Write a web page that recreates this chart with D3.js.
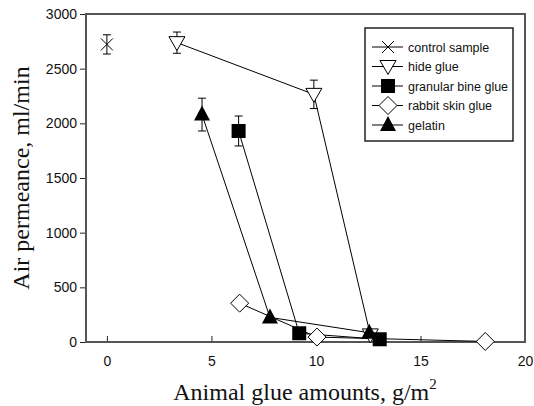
<!DOCTYPE html>
<html lang="en">
<head>
<meta charset="UTF-8">
<script src="https://d3js.org/d3.v7.min.js"></script>
<title>Air permeance</title>
<style>
  body { margin: 0; background: #fff; }
</style>
</head>
<body>
<svg width="534" height="406" id="mainsvg"></svg>
<script>
// data
const seriesNames = ['control sample', 'hide glue', 'granular bine glue', 'rabbit skin glue', 'gelatin'];
const seriesKeys = ['x', 'tri', 'sq', 'dia', 'up'];

const controlX = [0];
const controlY = [2722];
const controlErr = [88];

const hideX = [3.35, 9.9, 12.6];
const hideY = [2738, 2265, 65];
const hideErr = [97, 130, 0];

const granularX = [6.3, 9.2, 13.05];
const granularY = [1930, 80, 25];
const granularErr = [137, 0, 0];

const rabbitX = [6.35, 10.05, 18.1];
const rabbitY = [355, 45, 5];
const rabbitErr = [0, 0, 0];

const gelatinX = [4.55, 7.8, 12.55];
const gelatinY = [2080, 225, 85];
const gelatinErr = [150, 0, 0];

const xTicks = [0, 5, 10, 15, 20];
const yTicks = [0, 500, 1000, 1500, 2000, 2500, 3000];

const series = [
  { xs: controlX, ys: controlY, err: controlErr },
  { xs: hideX, ys: hideY, err: hideErr },
  { xs: granularX, ys: granularY, err: granularErr },
  { xs: rabbitX, ys: rabbitY, err: rabbitErr },
  { xs: gelatinX, ys: gelatinY, err: gelatinErr }
].map((s, i) => ({
  name: seriesNames[i],
  key: seriesKeys[i],
  pts: s.xs.map((x, j) => ({ x: x, y: s.ys[j], e: s.err[j] }))
}));

const svg = d3.select('#mainsvg');
const box = { left: 86, right: 525, top: 14, bottom: 342 };

const x = d3.scaleLinear().domain([-1, 20]).range([box.left, box.right]);
const y = d3.scaleLinear().domain([0, 3000]).range([box.bottom, box.top]);

const frameColor = '#555';

// axes
const yAxis = d3.axisLeft(y).tickValues(yTicks).tickFormat(d3.format('d')).tickSize(6).tickPadding(3);
const gy = svg.append('g').attr('transform', `translate(${box.left},0)`).call(yAxis);
const xAxis = d3.axisBottom(x).tickValues(xTicks).tickFormat(d3.format('d')).tickSize(-6).tickPadding(14);
const gx = svg.append('g').attr('transform', `translate(0,${box.bottom})`).call(xAxis);

[gx, gy].forEach(g => {
  g.select('.domain').remove();
  g.selectAll('.tick line').attr('stroke', '#222');
  g.selectAll('.tick text')
    .attr('font-family', 'Liberation Sans, Arial, sans-serif')
    .attr('font-size', 14)
    .attr('fill', '#111');
});

// frame
svg.append('rect')
  .attr('x', box.left).attr('y', box.top)
  .attr('width', box.right - box.left).attr('height', box.bottom - box.top)
  .attr('fill', 'none').attr('stroke', frameColor).attr('stroke-width', 2);

// marker shapes
function drawMarker(g, key) {
  if (key === 'x') {
    g.append('path').attr('d', 'M-6,-6L6,6M-6,6L6,-6')
      .attr('stroke', '#000').attr('stroke-width', 1).attr('fill', 'none');
  } else if (key === 'tri') {
    g.append('path').attr('d', 'M-8,-6L8,-6L0,8Z')
      .attr('fill', '#fff').attr('stroke', '#000').attr('stroke-width', 1);
  } else if (key === 'sq') {
    g.append('rect').attr('x', -7).attr('y', -7).attr('width', 14).attr('height', 14)
      .attr('fill', '#000');
  } else if (key === 'dia') {
    g.append('path').attr('d', 'M0,-9L9,0L0,9L-9,0Z')
      .attr('fill', '#fff').attr('stroke', '#000').attr('stroke-width', 1);
  } else if (key === 'up') {
    g.append('path').attr('d', 'M0,-9L8,6L-8,6Z')
      .attr('fill', '#000');
  }
}

const line = d3.line().x(d => x(d.x)).y(d => y(d.y));

const plot = svg.append('g');

// error bars
series.forEach(s => {
  s.pts.filter(d => d.e > 0).forEach(d => {
    const eg = plot.append('g').attr('stroke', '#000').attr('stroke-width', 1);
    eg.append('line').attr('x1', x(d.x)).attr('x2', x(d.x))
      .attr('y1', y(d.y - d.e)).attr('y2', y(d.y + d.e));
    [d.y - d.e, d.y + d.e].forEach(v => {
      eg.append('line').attr('x1', x(d.x) - 4).attr('x2', x(d.x) + 4)
        .attr('y1', y(v)).attr('y2', y(v));
    });
  });
});

// lines
series.forEach(s => {
  if (s.pts.length > 1) {
    plot.append('path').datum(s.pts).attr('d', line)
      .attr('fill', 'none').attr('stroke', '#000').attr('stroke-width', 1);
  }
});

// markers
series.forEach(s => {
  s.pts.forEach(d => {
    const mg = plot.append('g').attr('transform', `translate(${x(d.x)},${y(d.y)})`);
    drawMarker(mg, s.key);
  });
});

// legend
const legend = svg.append('g').attr('transform', 'translate(365,28)');
legend.append('rect').attr('width', 148).attr('height', 113)
  .attr('fill', '#fff').attr('stroke', '#222').attr('stroke-width', 1.5);
series.forEach((s, i) => {
  const row = legend.append('g').attr('transform', `translate(0,${19 + i * 19.5})`);
  row.append('line').attr('x1', 7).attr('x2', 38).attr('y1', 0).attr('y2', 0)
    .attr('stroke', '#000').attr('stroke-width', 1);
  const mg = row.append('g').attr('transform', 'translate(23,0)');
  drawMarker(mg, s.key);
  row.append('text').text(s.name)
    .attr('x', 43).attr('y', 4.5)
    .attr('font-family', 'Liberation Sans, Arial, sans-serif')
    .attr('font-size', 12.5).attr('fill', '#111');
});

// axis titles
const xt = svg.append('text')
  .attr('x', 305).attr('y', 400)
  .attr('text-anchor', 'middle')
  .attr('font-family', 'Liberation Serif, Times New Roman, serif')
  .attr('font-size', 24).attr('fill', '#111')
  .text('Animal glue amounts, g/m');
xt.append('tspan').attr('dy', -11).attr('font-size', 15).text('2');

svg.append('text')
  .attr('transform', 'translate(29,178) rotate(-90)')
  .attr('text-anchor', 'middle')
  .attr('font-family', 'Liberation Serif, Times New Roman, serif')
  .attr('font-size', 24).attr('fill', '#111')
  .text('Air permeance, ml/min');
</script>
</body>
</html>
